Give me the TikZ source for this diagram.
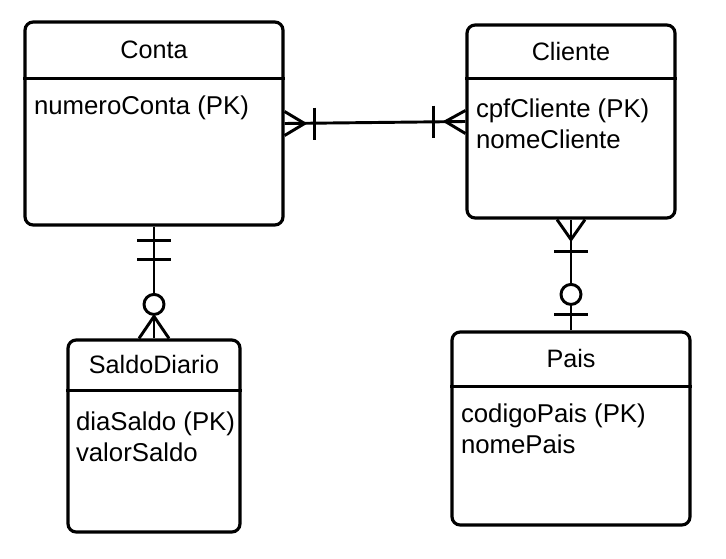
\documentclass[tikz,border=0pt]{standalone}
\usepackage{fontspec}
\setmainfont{Liberation Sans}
\usetikzlibrary{positioning,calc}
\begin{document}
\begin{tikzpicture}[
  x = 0.03cm, y = -0.03cm,
  line width = 2.7pt,
  entity/.style = {
    shape = rectangle,
    draw = black,
    rounded corners = 7pt,
    inner sep = 0pt,
    fill = white,
  },
  title/.style = {font = \fontsize{21.5}{25}\selectfont, inner sep = 0pt},
  attrs/.style = {font = \fontsize{22}{26}\selectfont, align = left,
    inner sep = 0pt, anchor = north west},
  rel/.style = {line width = 2.5pt},
]
  \useasboundingbox (0, 0) rectangle (726, 559);

  % entities
  \node[entity, minimum width = 258*0.03cm, minimum height = 203*0.03cm]
    (conta) at (154, 123.5) {};
  \node[entity, minimum width = 208*0.03cm, minimum height = 193*0.03cm]
    (cliente) at (571, 121.5) {};
  \node[entity, minimum width = 172*0.03cm, minimum height = 192*0.03cm]
    (saldo) at (154, 436) {};
  \node[entity, minimum width = 238*0.03cm, minimum height = 193*0.03cm]
    (pais) at (571, 428.5) {};

  \draw ($(conta.north west)+(0, 58)$) -- ($(conta.north east)+(0, 58)$);
  \draw ($(cliente.north west)+(0, 55)$) -- ($(cliente.north east)+(0, 55)$);
  \draw ($(saldo.north west)+(0, 52)$) -- ($(saldo.north east)+(0, 52)$);
  \draw ($(pais.north west)+(0, 56)$) -- ($(pais.north east)+(0, 56)$);

  \node[title] (contaT) at ($(conta.north)+(0, 29)$) {Conta};
  \node[title] (clienteT) at ($(cliente.north)+(0, 28)$) {Cliente};
  \node[title] (saldoT) at ($(saldo.north)+(0, 26)$) {SaldoDiario};
  \node[title] (paisT) at ($(pais.north)+(0, 28)$) {Pais};

  \node[attrs] (contaA) at ($(conta.north west)+(9, 74)$) {numeroConta (PK)};
  \node[attrs] (clienteA) at ($(cliente.north west)+(9, 74)$)
    {cpfCliente (PK)\\nomeCliente};
  \node[attrs] (saldoA) at ($(saldo.north west)+(8, 72)$)
    {diaSaldo (PK)\\valorSaldo};
  \node[attrs] (paisA) at ($(pais.north west)+(9, 72)$)
    {codigoPais (PK)\\nomePais};

  % relationships
  \begin{scope}[rel]
    % Conta -- Cliente
    \draw (conta.east) -- (cliente.west);
    \draw (conta.east) ++(0, -12) -- ++(20, 12) -- ++(-20, 12);
    \draw (conta.east) ++(30, -16) -- ++(0, 32);
    \draw (cliente.west) ++(0, -11) -- ++(-20, 11) -- ++(20, 12);
    \draw (cliente.west) ++(-32, -16) -- ++(0, 32);

    % Conta -- SaldoDiario
    \draw (conta.south) -- (saldo.north);
    \draw (conta.south) ++(-17, 14) -- ++(34, 0);
    \draw (conta.south) ++(-17, 33) -- ++(34, 0);
    \draw[fill = white] ($(saldo.north)+(0, -34)$) circle (10);
    \draw (saldo.north) ++(-15, 0) -- ++(15, -22) -- ++(15, 22);

    % Cliente -- Pais
    \draw (cliente.south) -- ($(pais.north)+(0, -47)$);
    \draw ($(pais.north)+(0, -25)$) -- (pais.north);
    \draw (cliente.south) ++(-14, 0) -- ++(14, 20) -- ++(14, -20);
    \draw (cliente.south) ++(-17, 32) -- ++(34, 0);
    \draw[fill = white] ($(pais.north)+(0, -36)$) circle (10);
    \draw (pais.north) ++(-17, -16) -- ++(34, 0);
  \end{scope}
\end{tikzpicture}
\end{document}
